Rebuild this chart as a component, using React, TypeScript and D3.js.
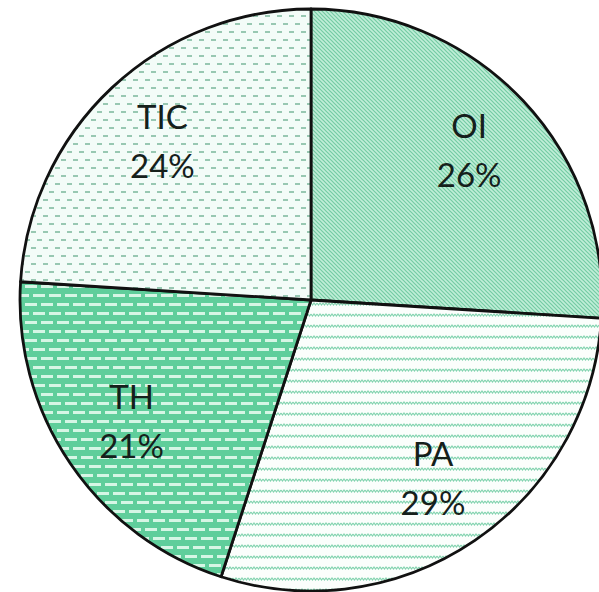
import React from 'react';
import * as d3 from 'd3';

const categories = ['OI', 'PA', 'TH', 'TIC'];
const shares = [26, 29, 21, 24];
const fills = ['url(#pOI)', 'url(#pPA)', 'url(#pTH)', 'url(#pTIC)'];

const width = 599;
const height = 592;
const cx = 311;
const cy = 300;
const radius = 291;
const labelRadius = 217;

export default function App() {
  const pie = d3.pie<number>().sort(null).value(d => d);
  const arcs = pie(shares);
  const arc = d3.arc<d3.PieArcDatum<number>>().innerRadius(0).outerRadius(radius);
  const label = d3.arc<d3.PieArcDatum<number>>().innerRadius(labelRadius).outerRadius(labelRadius);

  return (
    <div>
      <style>{'body{margin:0}'}</style>
      <svg width={width} height={height} style={{ display: 'block', background: '#fff' }}>
        <defs>
          <pattern id="pOI" width="4" height="4" patternUnits="userSpaceOnUse">
            <rect width="4" height="4" fill="#c0eed8" />
            <path d="M-1,-1 L5,5 M-1,3 L1,5 M3,-1 L5,1" stroke="#74cba3" strokeWidth="1.2" />
          </pattern>
          <pattern id="pPA" width="6" height="11" patternUnits="userSpaceOnUse">
            <rect width="6" height="11" fill="#fbfefc" />
            <path d="M0,3 L1.5,5 L3,3 L4.5,5 L6,3" stroke="#84d4b0" strokeWidth="1.2" fill="none" />
          </pattern>
          <pattern id="pTH" width="16" height="18" patternUnits="userSpaceOnUse">
            <rect width="16" height="18" fill="#5fce9b" />
            <rect x="2" y="3" width="12" height="3" fill="#d6f6e5" />
            <rect x="-6" y="12" width="12" height="3" fill="#d6f6e5" />
            <rect x="10" y="12" width="12" height="3" fill="#d6f6e5" />
          </pattern>
          <pattern id="pTIC" width="12" height="16" patternUnits="userSpaceOnUse">
            <rect width="12" height="16" fill="#f3fcf8" />
            <rect x="2" y="3" width="5" height="2" fill="#98c8b2" />
            <rect x="8" y="11" width="5" height="2" fill="#98c8b2" />
            <rect x="-4" y="11" width="5" height="2" fill="#98c8b2" />
          </pattern>
        </defs>
        <g transform={`translate(${cx},${cy})`}>
          {arcs.map((d, i) => (
            <path key={categories[i]} d={arc(d) || ''} fill={fills[i]} stroke="#111" strokeWidth={2.8} strokeLinejoin="round" />
          ))}
          {arcs.map((d, i) => {
            const [x, y] = label.centroid(d);
            return (
              <text key={'t' + categories[i]} transform={`translate(${x},${y})`} textAnchor="middle"
                fontFamily="Lato, 'Open Sans', sans-serif" fontSize={33} fill="#15201b">
                <tspan x={0} dy={-13}>{categories[i]}</tspan>
                <tspan x={0} dy={49}>{shares[i]}%</tspan>
              </text>
            );
          })}
        </g>
      </svg>
    </div>
  );
}
